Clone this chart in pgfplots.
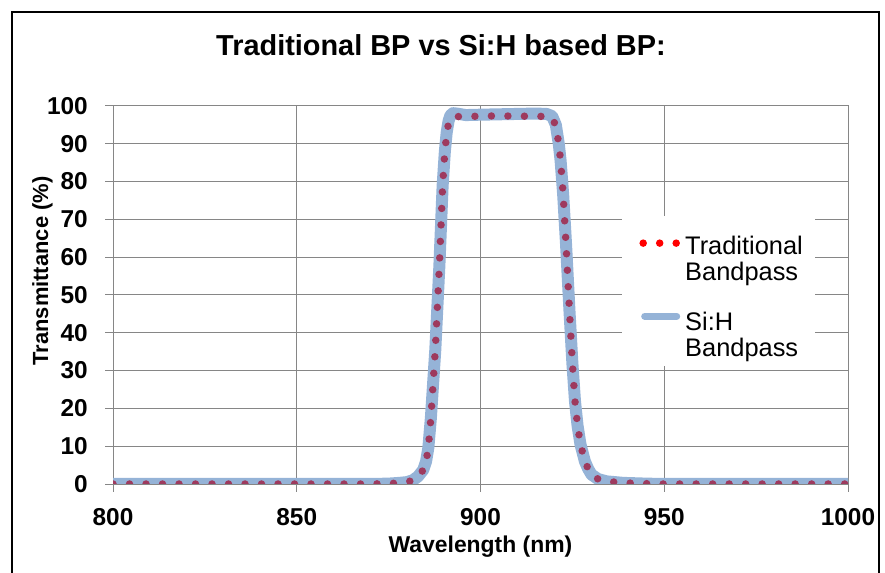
\documentclass[border=0pt]{standalone}
\usepackage{pgfplots}
\pgfplotsset{compat=1.18}
\usepackage{fontspec}
\setmainfont{Liberation Sans}
\definecolor{sihblue}{RGB}{149,179,215}
\definecolor{tradred}{RGB}{158,58,94}
\definecolor{gridgray}{RGB}{134,134,134}

\pgfplotstableread{
x y
800 0
870 0
875 0.1
878 0.3
880 0.5
881.6 1.0
883 2.0
884.4 3.7
885.2 6
885.8 9.5
886.5 17.5
887.7 35.5
888.8 57.5
889.7 79
890.3 88
890.8 93
891.3 96
891.8 97.5
892.5 98.1
893.5 98.0
896 97.6
900 97.7
905 97.8
910 97.9
915 98.0
918 97.9
919.5 97.3
920.5 95
921.3 90
921.8 85.5
922.5 76.5
923.3 63
924.2 46
925.0 32
925.7 22
926.4 15.5
927.2 10.5
928.4 6
929.3 4
930.2 2.5
932 1.3
934.3 0.7
938.8 0.3
945 0.1
950 0
1000 0
}\sihdata

\pgfplotstableread{
x y
800 0
870 0
875 0.1
878 0.3
880 0.5
881.6 1.0
883 2.0
884.4 3.7
885.2 6
885.8 9.5
886.5 17.5
887.7 35.5
888.8 57.5
889.7 79
890.3 88
890.8 92.5
891.3 95.5
891.8 96.6
892.5 97.1
894 97.2
900 97.3
905 97.4
910 97.3
915 97.3
918 97.2
919.5 96.8
920.5 94.8
921.3 90
921.8 85.5
922.5 76.5
923.3 63
924.2 46
925.0 32
925.7 22
926.4 15.5
927.2 10.5
928.4 6
929.3 4
930.2 2.5
932 1.3
934.3 0.7
938.8 0.3
945 0.1
950 0
1000 0
}\traddata

\begin{document}
\begin{tikzpicture}
\path[use as bounding box] (0bp,0bp) rectangle (885bp,573bp);
\draw[black, line width=1.3bp] (12bp,-5bp) -- (12bp,561bp) -- (879bp,561bp) -- (879bp,-5bp);
\node[font=\bfseries\fontsize{29}{31}\selectfont, anchor=base, inner sep=0pt] at (441bp,517bp) {Traditional BP vs Si:H based BP:};
\begin{axis}[
  at={(113bp,89bp)}, anchor=south west,
  scale only axis, width=735bp, height=378bp,
  xmin=800, xmax=1000, ymin=0, ymax=100,
  xtick={800,850,...,1000}, ytick={0,10,...,100},
  xtick pos=bottom, ytick pos=left,
  tick align=outside, major tick length=8bp,
  grid=major,
  major grid style={gridgray, line width=1bp},
  axis line style={gridgray, line width=1bp},
  tick style={gridgray, line width=1bp},
  /pgf/number format/assume math mode=true,
  /pgf/number format/1000 sep={},
  ticklabel style={font=\bfseries\fontsize{24.5}{26}\selectfont},
  xticklabel style={inner sep=0pt, anchor=north, yshift=-16bp},
  yticklabel style={inner sep=0pt, anchor=east, xshift=-17bp},
  xlabel={Wavelength (nm)},
  ylabel={Transmittance (\%)},
  every axis x label/.style={at={(axis description cs:0.5,-0.1825)}, anchor=base, font=\bfseries\fontsize{23}{25}\selectfont, inner sep=0pt},
  every axis y label/.style={at={(axis description cs:-0.0884,0.5635)}, anchor=base, rotate=90, font=\bfseries\fontsize{22}{24}\selectfont, inner sep=0pt},
  reverse legend,
  legend cell align=left,
  legend style={at={(axis description cs:0.6925,0.709)}, anchor=north west,
    draw=none, fill=white, inner xsep=10bp, inner ysep=6bp,
    font=\fontsize{25.5}{26.5}\selectfont,
    cells={anchor=west, align=left},
    row sep=26bp},
]
\addplot[sihblue, line width=12bp, line join=round, line cap=round,
  legend image code/.code={\path[draw=none,fill=none] (0bp,-5bp) rectangle (51bp,5bp);
    \draw[overlay, sihblue, line width=7bp, line cap=round, solid] (12.5bp,19bp) -- (44.5bp,19bp);}]
  table[x=x, y=y] {\sihdata};
\addlegendentry{Si:H\\Bandpass}
\addplot[tradred, line width=7.5bp, line cap=round, line join=round, dash pattern=on 0pt off 16.5bp,
  legend image code/.code={\path[draw=none,fill=none] (0bp,-5bp) rectangle (51bp,5bp);
    \draw[overlay, red, line width=7.5bp, line cap=round, dash pattern=on 0pt off 16.5bp] (11bp,10bp) -- (46bp,10bp);}]
  table[x=x, y=y] {\traddata};
\addlegendentry{\rule{0pt}{30bp}Traditional\\Bandpass}
\end{axis}
\end{tikzpicture}
\end{document}
